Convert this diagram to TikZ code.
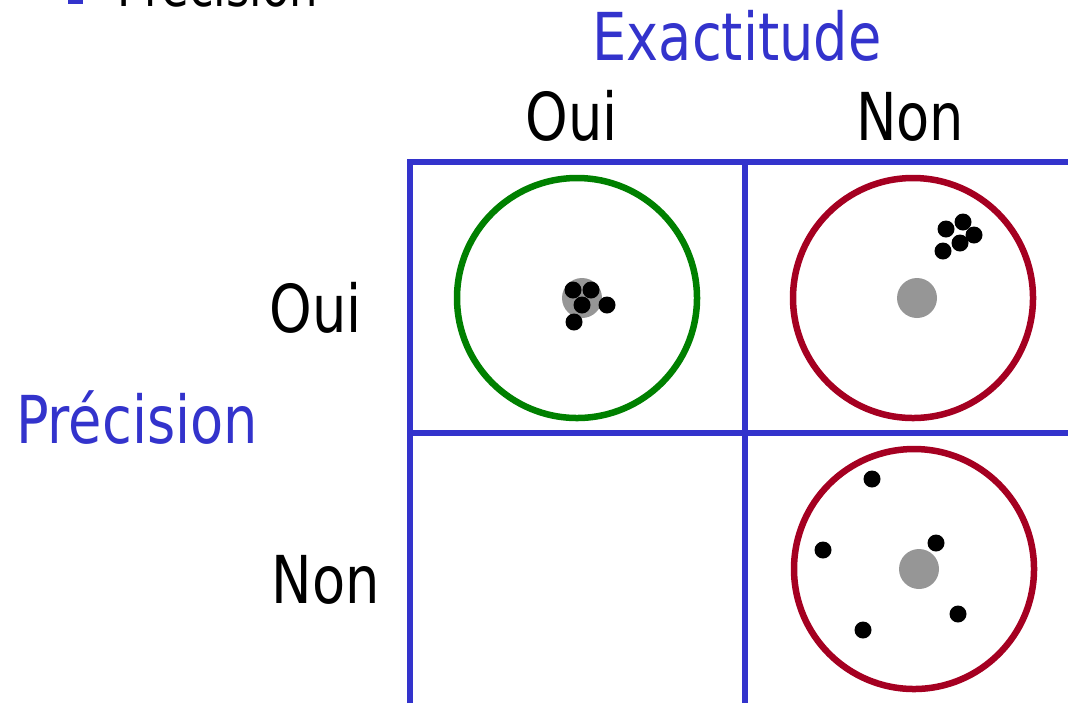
\documentclass[tikz,border=0pt]{standalone}
\usepackage{fontspec}
\setmainfont{DejaVu Sans}[FakeStretch=0.82]
\usetikzlibrary{positioning}
\definecolor{cGrid}{RGB}{51,51,204}
\definecolor{cHit}{RGB}{0,128,0}
\definecolor{cMiss}{RGB}{165,0,33}
\definecolor{cCentre}{RGB}{150,150,150}
\tikzset{
  gridline/.style={draw=cGrid, line width=0.55mm},
  target/.style={circle, draw, line width=0.65mm, minimum size=24mm, inner sep=0pt},
  hit/.style={target, draw=cHit},
  miss/.style={target, draw=cMiss},
  bull/.style={circle, fill=cCentre, minimum size=4mm, inner sep=0pt},
  shot/.style={circle, fill=black, minimum size=1.7mm, inner sep=0pt},
  head/.style={font=\fontsize{18.8}{22}\selectfont, anchor=base, inner sep=0pt},
  axis/.style={head, text=cGrid},
}

\begin{document}
\begin{tikzpicture}[x=0.1mm, y=-0.1mm]
  \useasboundingbox (0,0) rectangle (1068,703);
  \clip (0,0) rectangle (1068,703);

  % bullet line cut off at the top
  \fill[cGrid] (68,-11) rectangle (83,4);
  \node[font=\fontsize{15.6}{18}\selectfont, anchor=base west, inner sep=0pt] (bul) at (117,6) {Précision};

  % titles
  \node[axis] (exa) at (737,60) {Exactitude};
  \node[head] (colA) at (572,140) {Oui};
  \node[head] (colB) at (910,140) {Non};
  \node[axis] (pre) at (137,443) {Précision};
  \node[head] (rowA) at (316,332) {Oui};
  \node[head] (rowB) at (326,603) {Non};

  % table
  \draw[gridline] (410,703) -- (410,162) -- (1068,162);
  \draw[gridline] (410,433) -- (1068,433);
  \draw[gridline] (745,162) -- (745,703);

  % targets
  \node[hit] (tA) at (577,298) {};
  \node[miss] (tB) at (913,298) {};
  \node[miss] (tC) at (914,569) {};
  \node[bull] (cA) at (582,298) {};
  \node[bull] (cB) at (917,298) {};
  \node[bull] (cC) at (919,569) {};

  % shots
  \foreach \x/\y [count=\i] in {573/290,591/290,582/305,607/305,574/322}
    \node[shot] (sA\i) at (\x,\y) {};
  \foreach \x/\y [count=\i] in {963/222,946/229,974/235,960/243,943/251}
    \node[shot] (sB\i) at (\x,\y) {};
  \foreach \x/\y [count=\i] in {872/479,823/550,936/543,958/614,863/630}
    \node[shot] (sC\i) at (\x,\y) {};
\end{tikzpicture}
\end{document}
